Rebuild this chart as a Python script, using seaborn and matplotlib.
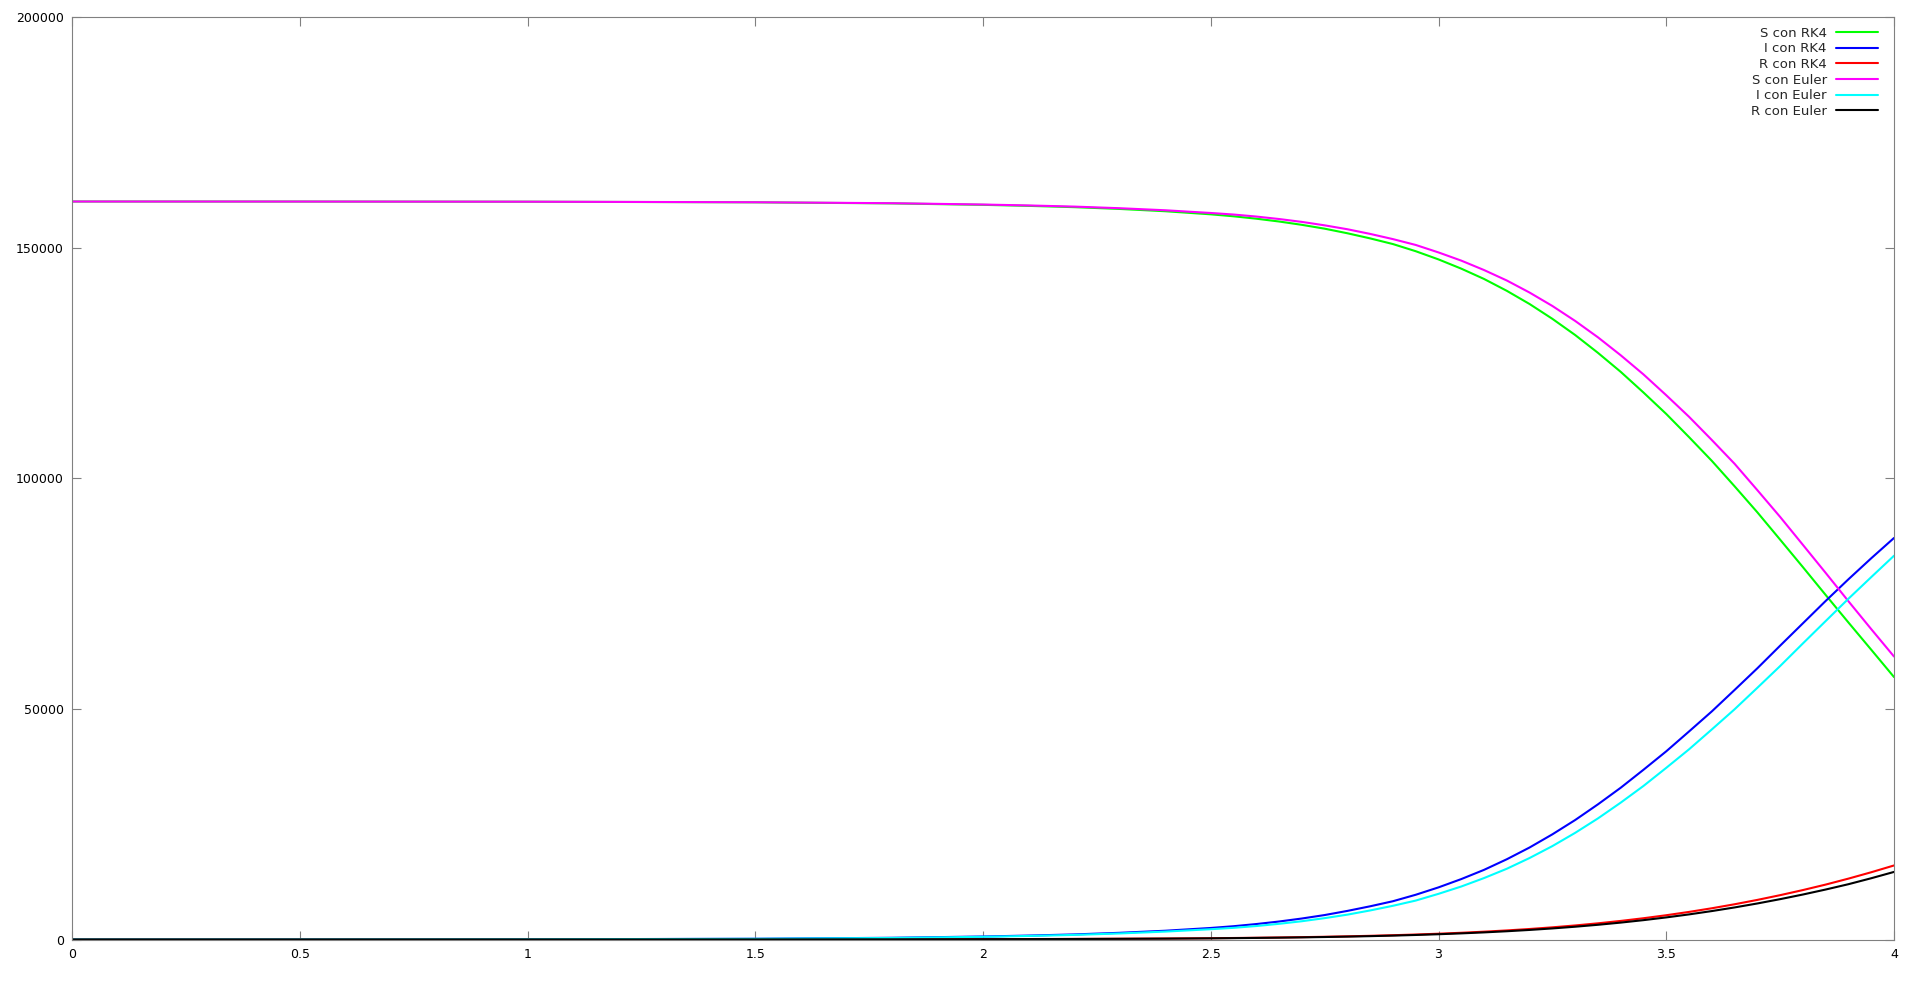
import numpy as np
import pandas as pd
from matplotlib import pyplot as plt
from matplotlib.ticker import FuncFormatter, MultipleLocator
import seaborn as sns

# tiempo (dias) y valores
t = [0, 0.5, 1, 1.5, 1.8, 2.0, 2.1, 2.2, 2.3, 2.4,
     2.5, 2.55, 2.6, 2.65, 2.7, 2.75, 2.8, 2.85, 2.9, 2.95,
     3.0, 3.05, 3.1, 3.15, 3.2, 3.25, 3.3, 3.35, 3.4, 3.45,
     3.5, 3.55, 3.6, 3.65, 3.7, 3.75, 3.8, 3.85, 3.9, 3.95, 4.0]

S_rk4 = [159998, 159989, 159955, 159822, 159590, 159275, 159053, 158775, 158385, 157890,
         157220, 156795, 156273, 155662, 154941, 154109, 153113, 152001, 150771, 149221,
         147445, 145441, 143205, 140633, 137771, 134563, 131055, 127193, 123072, 118589,
         113939, 108920, 103778, 98261, 92615, 86689, 80732, 74693, 68724, 62828, 56900]
I_rk4 = [2, 10, 40, 160, 370, 650, 850, 1100, 1450, 1900,
         2500, 2880, 3350, 3900, 4550, 5300, 6200, 7200, 8300, 9700,
         11300, 13100, 15100, 17400, 19950, 22800, 25900, 29300, 32900, 36800,
         40800, 45100, 49450, 54100, 58800, 63700, 68550, 73400, 78100, 82650, 87050]
R_rk4 = [0, 1, 5, 18, 40, 75, 97, 125, 165, 210,
         280, 325, 377, 438, 509, 591, 687, 799, 929, 1079,
         1255, 1459, 1695, 1967, 2279, 2637, 3045, 3507, 4028, 4611,
         5261, 5980, 6772, 7639, 8585, 9611, 10718, 11907, 13200, 14580, 16050]

S_eu = [159998, 159990, 159959, 159839, 159629, 159344, 159144, 158895, 158545, 158100,
        157510, 157175, 156737, 156202, 155577, 154832, 153985, 152973, 151845, 150578,
        148958, 147182, 145138, 142870, 140256, 137350, 134109, 130559, 126665, 122514,
        117997, 113328, 108297, 103139, 97420, 91620, 85560, 79480, 73330, 67290, 61350]
I_eu = [2, 9, 36, 145, 335, 590, 770, 995, 1310, 1715,
        2230, 2530, 2920, 3400, 3960, 4630, 5390, 6300, 7310, 8440,
        9900, 11490, 13320, 15340, 17670, 20250, 23120, 26250, 29670, 33290,
        37215, 41230, 45540, 49910, 54570, 59285, 64190, 69040, 73880, 78565, 83200]
R_eu = [0, 1, 5, 16, 36, 66, 86, 110, 145, 185,
        250, 295, 343, 398, 463, 538, 625, 727, 845, 982,
        1142, 1328, 1542, 1790, 2074, 2400, 2771, 3191, 3665, 4196,
        4788, 5442, 6163, 6951, 7812, 8746, 9753, 10835, 11990, 13280, 14650]

labels = ['S con RK4', 'I con RK4', 'R con RK4', 'S con Euler', 'I con Euler', 'R con Euler']
colors = ['#00ff00', '#0000ff', '#ff0000', '#ff00ff', '#00ffff', '#000000']

series = [S_rk4, I_rk4, R_rk4, S_eu, I_eu, R_eu]
df = pd.concat([pd.DataFrame({'t': t, 'v': s, 'serie': lab}) for s, lab in zip(series, labels)])

sns.set_style('ticks')
plt.rcParams['font.family'] = ['DejaVu Sans']
plt.rcParams.update({'font.size': 9})

fig = plt.figure(figsize=(19.2, 9.96), dpi=100)
ax = fig.add_axes([72/1920, 1-939.5/996, (1894-72)/1920, (939.5-17)/996])

sns.lineplot(data=df, x='t', y='v', hue='serie', hue_order=labels,
             palette=dict(zip(labels, colors)), linewidth=1.5, sort=False, ax=ax)

ax.set_xlim(0, 4)
ax.set_ylim(0, 200000)
ax.xaxis.set_major_locator(MultipleLocator(0.5))
ax.yaxis.set_major_locator(MultipleLocator(50000))
fmt = FuncFormatter(lambda v, p: '%g' % v)
ax.xaxis.set_major_formatter(fmt)
ax.yaxis.set_major_formatter(fmt)
ax.set_xlabel('')
ax.set_ylabel('')
ax.tick_params(direction='in', length=6.5, width=0.8, color='#808080',
               top=True, right=True, labelsize=9, colors='black', pad=6)
ax.tick_params(color='#808080')
for sp in ax.spines.values():
    sp.set_color('#808080')
    sp.set_linewidth(0.8)

handles, labs = ax.get_legend_handles_labels()
ax.legend(handles, labs, loc='upper right', bbox_to_anchor=(0.995, 0.9965),
          frameon=False, markerfirst=False, handlelength=3.2, handletextpad=0.7,
          labelspacing=0.2, borderpad=0, fontsize=9.5)

plt.savefig('out.png', dpi=100)
